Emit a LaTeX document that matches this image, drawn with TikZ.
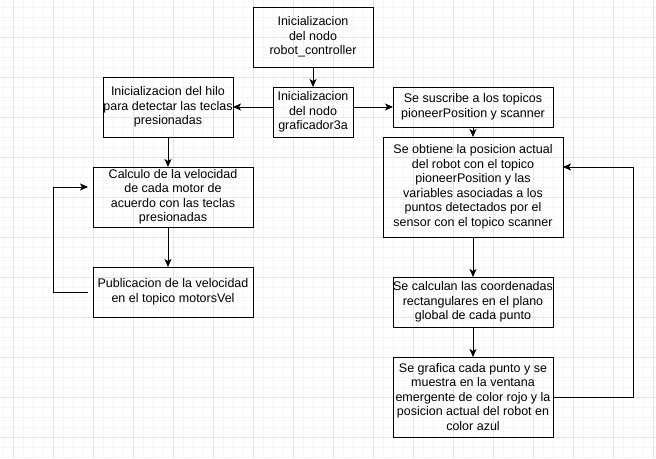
\documentclass[tikz,border=0pt]{standalone}
\usepackage{fontspec}
\setmainfont{Liberation Sans}
\usetikzlibrary{positioning,arrows.meta}

\begin{document}
\begin{tikzpicture}[x=1pt, y=-1pt, node distance=40pt, arrow/.style={-{Stealth[length=8pt,width=7pt,inset=2pt]}, line width=1pt}, box/.style={draw, rectangle, line width=1pt, align=center, inner sep=0pt, outer sep=0pt, font=\fontsize{12.5}{14.5}\selectfont}, minor/.style={draw=black!4, line width=1pt}, major/.style={draw=black!10, line width=1pt}]

        \useasboundingbox (0,0) rectangle (656,458);
        \fill[white] (0,0) rectangle (656,458);
        \foreach \x in {3,13,...,653} \draw[minor] (\x,0) -- (\x,458);
        \foreach \y in {7,17,...,457} \draw[minor] (0,\y) -- (656,\y);
        \foreach \x in {13,53,...,653} \draw[major] (\x,0) -- (\x,458);
        \foreach \y in {37,77,...,437} \draw[major] (0,\y) -- (656,\y);

        \node [box, minimum width=120pt, minimum height=60pt] (controller) at (313,37) {Inicializacion\\del nodo\\robot\_controller};
        \node [box, minimum width=80pt, minimum height=50pt, below = 20pt of controller] (graficador) {Inicializacion\\del nodo\\graficador3a};
        \node [box, minimum width=130pt, minimum height=60pt, left = 40pt of graficador.south west, anchor=south east] (hilo) {Inicializacion del hilo\\para detectar las teclas\\presionadas};
        \node [box, minimum width=160pt, minimum height=60pt, below = 30pt of hilo, xshift=5pt] (calculo) {Calculo de la velocidad\\de cada motor de\\acuerdo con las teclas\\presionadas};
        \node [box, minimum width=160pt, minimum height=50pt, below = of calculo] (publicacion) {Publicacion de la velocidad\\en el topico motorsVel};
        \node [box, minimum width=160pt, minimum height=40pt, right = 40pt of graficador.north east, anchor=north west] (suscribe) {Se suscribe a los topicos\\pioneerPosition y scanner};
        \node [box, minimum width=180pt, minimum height=100pt, below = 10pt of suscribe] (posicion) {Se obtiene la posicion actual\\del robot con el topico\\pioneerPosition y las\\variables asociadas a los\\puntos detectados por el\\sensor con el topico scanner};
        \node [box, minimum width=160pt, minimum height=50pt, below = of posicion] (coordenadas) {Se calculan las coordenadas\\rectangulares en el plano\\global de cada punto};
        \node [box, minimum width=160pt, minimum height=80pt, below = 30pt of coordenadas] (grafica) {Se grafica cada punto y se\\muestra en la ventana\\emergente de color rojo y la\\posicion actual del robot en\\color azul};

        \draw[arrow] (controller) -- (graficador);
        \draw[arrow] (graficador.west |- hilo.east) -- (hilo.east);
        \draw[arrow] (graficador.east |- suscribe.west) -- (suscribe.west);
        \draw[arrow] (hilo) -- (hilo |- calculo.north);
        \draw[arrow] (calculo.south -| hilo) -- (publicacion.north -| hilo);
        \draw[arrow, shorten <=5pt, shorten >=5pt] (publicacion.west) -- ++(-40pt,0pt) |- ([yshift=10pt]calculo.west);
        \draw[arrow] (suscribe) -- (posicion);
        \draw[arrow] (posicion) -- (coordenadas);
        \draw[arrow] (coordenadas) -- (grafica);
        \draw[arrow] (grafica.east) -- ++(80pt,0pt) |- ([yshift=20pt]posicion.east);

    \end{tikzpicture}
\end{document}
